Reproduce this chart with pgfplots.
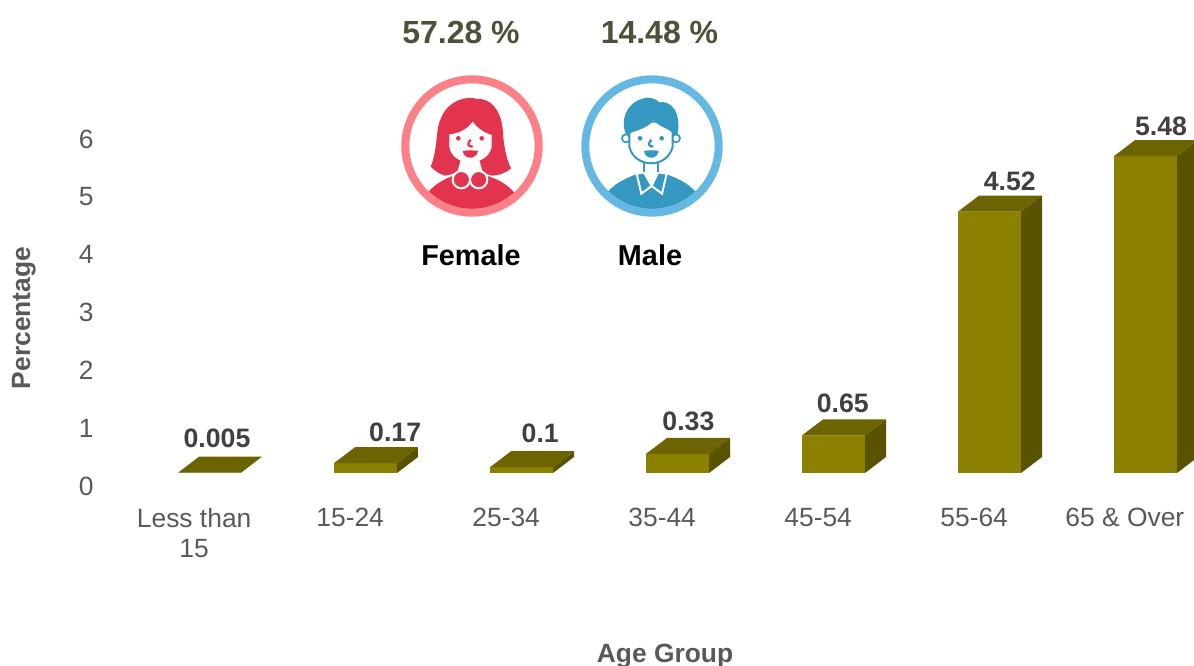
\documentclass[border=0pt]{standalone}
\usepackage{pgfplots}
\pgfplotsset{compat=1.18}
\usepackage{fontspec}
\setmainfont{Liberation Sans}
\definecolor{barfront}{HTML}{8B8000}
\definecolor{bartop}{HTML}{6B6400}
\definecolor{barside}{HTML}{595300}
\definecolor{ticktext}{HTML}{595959}
\definecolor{datatext}{HTML}{404040}
\definecolor{pcttext}{HTML}{4A5338}
\definecolor{fring}{HTML}{FB8087}
\definecolor{fred}{HTML}{E3344F}
\definecolor{mring}{HTML}{64B8E2}
\definecolor{mblue}{HTML}{3498C0}
\begin{document}
\begin{tikzpicture}
\path[use as bounding box] (0,0) rectangle (895.5pt,499.5pt);
\begin{axis}[
  at={(98.625pt,144.75pt)}, anchor=south west,
  scale only axis, width=796.875pt, height=268.9pt,
  xmin=-0.5, xmax=6.3109, ymin=0, ymax=6.2,
  clip=false,
  axis line style={draw=none},
  tick style={draw=none},
  xtick={0,1,2,3,4,5,6},
  xticklabels={{Less than\\15},15-24,25-34,35-44,45-54,55-64,65 \& Over\hbox to 8pt{}},
  ytick={0,1,2,3,4,5,6},
  /pgf/number format/assume math mode=true,
  tick label style={font=\fontsize{19.8pt}{22.5pt}\selectfont, text=ticktext},
  xticklabel style={align=center, xshift=-11.5pt, yshift=-23pt},
  yticklabel style={yshift=-9.75pt, xshift=-25pt},
  xlabel={Age Group}, ylabel={Percentage},
  every axis x label/.style={at={(axis cs:2.92,-3.16)},anchor=center,font=\fontsize{19.8pt}{22pt}\selectfont\bfseries,text=ticktext},
  every axis y label/.style={at={(axis cs:-1.19,2.68)},anchor=center,rotate=90,font=\fontsize{19.8pt}{22pt}\selectfont\bfseries,text=ticktext},
]
\addplot[ybar, bar width=47pt, bar shift=0pt, fill=barfront, draw=none] coordinates
  {(0,0.005)(1,0.17)(2,0.1)(3,0.33)(4,0.65)(5,4.52)(6,5.48)};
% top faces
\addplot[fill=bartop, draw=none] coordinates {(-.2019,.005)(.2019,.005)(.3365,.2817)(-.0673,.2817)} --cycle;
\addplot[fill=bartop, draw=none] coordinates {(.7981,.17)(1.2019,.17)(1.3365,.4467)(.9327,.4467)} --cycle;
\addplot[fill=bartop, draw=none] coordinates {(1.7981,.1)(2.2019,.1)(2.3365,.3767)(1.9327,.3767)} --cycle;
\addplot[fill=bartop, draw=none] coordinates {(2.7981,.33)(3.2019,.33)(3.3365,.6067)(2.9327,.6067)} --cycle;
\addplot[fill=bartop, draw=none] coordinates {(3.7981,.65)(4.2019,.65)(4.3365,.9267)(3.9327,.9267)} --cycle;
\addplot[fill=bartop, draw=none] coordinates {(4.7981,4.52)(5.2019,4.52)(5.3365,4.7967)(4.9327,4.7967)} --cycle;
\addplot[fill=bartop, draw=none] coordinates {(5.7981,5.48)(6.2019,5.48)(6.3365,5.7567)(5.9327,5.7567)} --cycle;
% side faces
\addplot[fill=barside, draw=none] coordinates {(1.2019,0)(1.3365,.2767)(1.3365,.4467)(1.2019,.17)} --cycle;
\addplot[fill=barside, draw=none] coordinates {(2.2019,0)(2.3365,.2767)(2.3365,.3767)(2.2019,.1)} --cycle;
\addplot[fill=barside, draw=none] coordinates {(3.2019,0)(3.3365,.2767)(3.3365,.6067)(3.2019,.33)} --cycle;
\addplot[fill=barside, draw=none] coordinates {(4.2019,0)(4.3365,.2767)(4.3365,.9267)(4.2019,.65)} --cycle;
\addplot[fill=barside, draw=none] coordinates {(5.2019,0)(5.3365,.2767)(5.3365,4.7967)(5.2019,4.52)} --cycle;
\addplot[fill=barside, draw=none] coordinates {(6.2019,0)(6.3365,.2767)(6.3365,5.7567)(6.2019,5.48)} --cycle;
% data labels
\tikzset{dl/.style={font=\fontsize{20pt}{22pt}\selectfont\bfseries,text=datatext,anchor=center,inner sep=0pt}}
\node[dl] at (axis cs:0.048,0.60) {0.005};
\node[dl] at (axis cs:1.19,0.71) {0.17};
\node[dl] at (axis cs:2.12,0.69) {0.1};
\node[dl] at (axis cs:3.07,0.89) {0.33};
\node[dl] at (axis cs:4.06,1.20) {0.65};
\node[dl] at (axis cs:5.13,5.05) {4.52};
\node[dl] at (axis cs:6.10,5.99) {5.48};
\end{axis}
% header texts, px -> pt
\node[font=\fontsize{24pt}{26pt}\selectfont\bfseries,text=pcttext,inner sep=0pt] at (345.75pt,475.5pt) {57.28 \%};
\node[font=\fontsize{24pt}{26pt}\selectfont\bfseries,text=pcttext,inner sep=0pt] at (494.6pt,475.5pt) {14.48 \%};
\node[font=\fontsize{21.6pt}{24pt}\selectfont\bfseries,text=black,inner sep=0pt] at (353.25pt,308pt) {Female};
\node[font=\fontsize{21.6pt}{24pt}\selectfont\bfseries,text=black,inner sep=0pt] at (487.5pt,308.25pt) {Male};
% female icon
\begin{scope}[shift={(292.5pt,435.75pt)},x=.25pt,y=-.25pt]
  \fill[white] (246,183) circle (195);
  \begin{scope}
    \clip (246,183) circle (190);
    \fill[fred] (112,325) .. controls (135,295) and (165,282) .. (190,272) -- (290,272) .. controls (320,282) and (350,295) .. (375,325) -- (375,400) -- (112,400) -- cycle;
  \end{scope}
  \fill[fred] (122,245) .. controls (145,190) and (135,130) .. (155,95) .. controls (175,50) and (225,30) .. (262,42) .. controls (300,40) and (330,70) .. (338,130) .. controls (340,180) and (350,225) .. (363,250) .. controls (345,265) and (325,272) .. (305,272) .. controls (285,268) and (270,255) .. (262,240) -- (218,240) .. controls (210,255) and (195,268) .. (165,272) .. controls (150,268) and (135,258) .. (122,245) -- cycle;
  \fill[white] (178,148) .. controls (210,145) and (235,130) .. (248,110) .. controls (262,130) and (285,145) .. (305,150) -- (305,185) .. controls (300,215) and (270,232) .. (240,232) .. controls (210,232) and (182,215) .. (178,185) -- cycle;
  \fill[white] (212,225) -- (268,225) -- (278,262) -- (240,278) -- (202,262) -- cycle;
  \draw[fill=fred,draw=white,line width=1.5pt] (214,284) circle (26);
  \draw[fill=fred,draw=white,line width=1.5pt] (266,284) circle (26);
  \fill[fred] (205,160) circle (7); \fill[fred] (275,160) circle (7);
  \draw[fred,line width=1.7pt] (242,164) .. controls (232,175) and (232,185) .. (248,185);
  \fill[fred] (218,198) .. controls (235,195) and (250,195) .. (264,198) .. controls (260,225) and (222,225) .. (218,198) -- cycle;
  \draw[fring,line width=6pt] (246,183) circle (200);
\end{scope}
% male icon
\begin{scope}[shift={(427.5pt,435.75pt)},x=.25pt,y=-.25pt]
  \fill[white] (246,183) circle (195);
  \begin{scope}
    \clip (246,183) circle (190);
    \fill[mblue] (112,322) .. controls (140,290) and (170,280) .. (198,268) -- (290,268) .. controls (320,280) and (350,290) .. (378,322) -- (378,400) -- (112,400) -- cycle;
  \end{scope}
  \fill[white] (222,235) -- (222,262) -- (245,300) -- (264,262) -- (264,235) -- cycle;
  \draw[fill=mblue,draw=white,line width=1.5pt] (200,266) -- (214,326) -- (245,303) -- (222,262) -- cycle;
  \draw[fill=mblue,draw=white,line width=1.5pt] (290,266) -- (276,326) -- (245,303) -- (264,262) -- cycle;
  \draw[mblue,line width=1.3pt] (222,235) -- (222,262);
  \draw[mblue,line width=1.3pt] (264,235) -- (264,262);
  \draw[fill=white,draw=mblue,line width=1.3pt] (168,160) circle (12);
  \draw[fill=white,draw=mblue,line width=1.3pt] (318,160) circle (12);
  \draw[fill=white,draw=mblue,line width=1.5pt] (178,110) -- (178,185) .. controls (185,218) and (215,235) .. (243,235) .. controls (272,235) and (300,218) .. (308,185) -- (308,110) -- cycle;
  \fill[mblue] (165,140) .. controls (150,90) and (180,45) .. (232,38) .. controls (250,38) and (260,45) .. (268,52) .. controls (305,45) and (335,85) .. (322,150) -- (312,152) .. controls (305,130) and (270,130) .. (250,105) .. controls (235,130) and (200,135) .. (180,145) -- (170,150) -- cycle;
  \fill[mblue] (210,160) circle (7); \fill[mblue] (275,160) circle (7);
  \draw[mblue,line width=1.7pt] (244,164) .. controls (234,175) and (234,185) .. (250,185);
  \fill[mblue] (222,198) .. controls (238,195) and (252,195) .. (266,198) .. controls (262,225) and (226,225) .. (222,198) -- cycle;
  \draw[mring,line width=6pt] (246,183) circle (200);
\end{scope}
\end{tikzpicture}
\end{document}
